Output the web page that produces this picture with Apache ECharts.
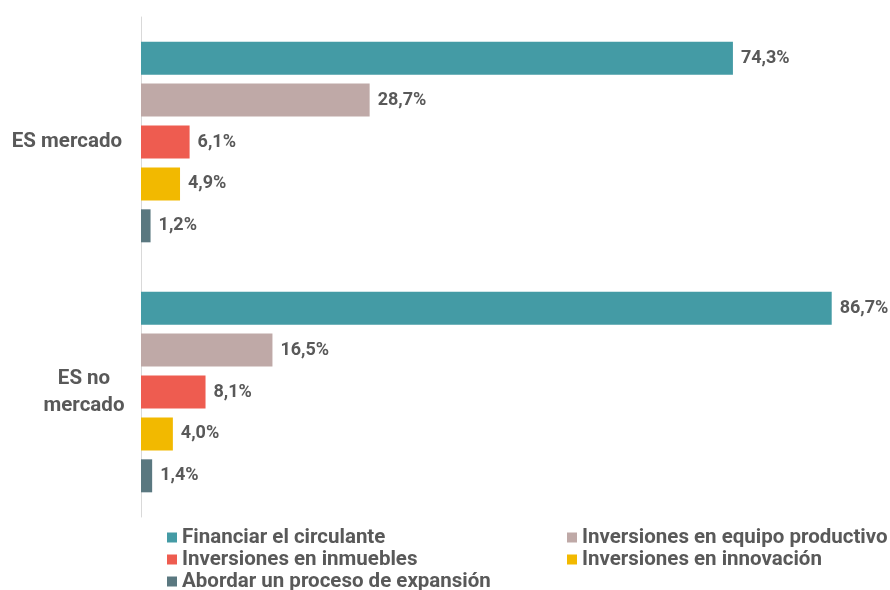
<!DOCTYPE html>
<html lang="es" style="height: 100%">

<head>
    <meta charset="utf-8" />
    <script src="https://cdn.jsdelivr.net/npm/echarts@6/dist/echarts.min.js"></script>
</head>

<body style="height: 100%; margin: 0">
    <div id="container" style="width: 890px;height: 590px;"></div>
    <script type="text/javascript">
        var dom = document.getElementById('container');
        var myChart = echarts.init(dom, null, { renderer: 'canvas' });

        // datos
        const categories = ['ES mercado', 'ES no\nmercado'];
        const seriesNames = [
            'Financiar el circulante',
            'Inversiones en equipo productivo',
            'Inversiones en inmuebles',
            'Inversiones en innovación',
            'Abordar un proceso de expansión'
        ];
        const financiar = [74.3, 86.7];
        const equipo = [28.7, 16.5];
        const inmuebles = [6.1, 8.1];
        const innovacion = [4.9, 4.0];
        const expansion = [1.2, 1.4];

        const colors = ['#449ba5', '#bfa9a7', '#ee5c50', '#f2b900', '#5a7880'];
        const allData = [financiar, equipo, inmuebles, innovacion, expansion];
        const textColor = '#595959';
        const font = 'Roboto, sans-serif';

        // leyenda en dos columnas
        const legendPos = [
            { left: 167, top: 527 },
            { left: 567, top: 527 },
            { left: 167, top: 549 },
            { left: 567, top: 549 },
            { left: 167, top: 571 }
        ];

        var option = {
            backgroundColor: '#ffffff',
            color: colors,
            grid: {
                left: 141,
                right: 32,
                top: 17,
                bottom: 73
            },
            legend: legendPos.map(function (p, i) {
                return {
                    left: p.left,
                    top: p.top,
                    padding: 0,
                    data: [seriesNames[i]],
                    icon: 'rect',
                    itemWidth: 10,
                    itemHeight: 10,
                    textStyle: {
                        color: textColor,
                        fontSize: 20.5,
                        fontWeight: 'bold',
                        fontFamily: font
                    }
                };
            }),
            xAxis: {
                type: 'value',
                min: 0,
                max: 90,
                show: false
            },
            yAxis: {
                type: 'category',
                inverse: true,
                data: categories,
                axisLine: { lineStyle: { color: '#d9d9d9', width: 1 } },
                axisTick: { show: false },
                axisLabel: {
                    margin: 19,
                    formatter: function (v) {
                        if (v.indexOf('\n') < 0) {
                            return '{a|' + v + '}';
                        }
                        return v.split('\n').map(function (s) {
                            return '{b|' + s + '}';
                        }).join('\n');
                    },
                    rich: {
                        a: {
                            color: textColor,
                            fontSize: 20.5,
                            fontWeight: 'bold',
                            fontFamily: font
                        },
                        b: {
                            color: textColor,
                            fontSize: 20.5,
                            fontWeight: 'bold',
                            fontFamily: font,
                            width: 76,
                            align: 'center',
                            lineHeight: 27
                        }
                    }
                }
            },
            series: seriesNames.map(function (name, i) {
                return {
                    name: name,
                    type: 'bar',
                    data: allData[i],
                    barWidth: 33,
                    barGap: '27%',
                    barCategoryGap: '20%',
                    itemStyle: { color: colors[i] },
                    label: {
                        show: true,
                        position: 'right',
                        distance: 8,
                        color: textColor,
                        fontSize: 18,
                        fontWeight: 'bold',
                        fontFamily: font,
                        formatter: function (p) {
                            return p.value.toFixed(1).replace('.', ',') + '%';
                        }
                    }
                };
            })
        };

        myChart.setOption(option);
        window.addEventListener('resize', myChart.resize);
    </script>
</body>

</html>
